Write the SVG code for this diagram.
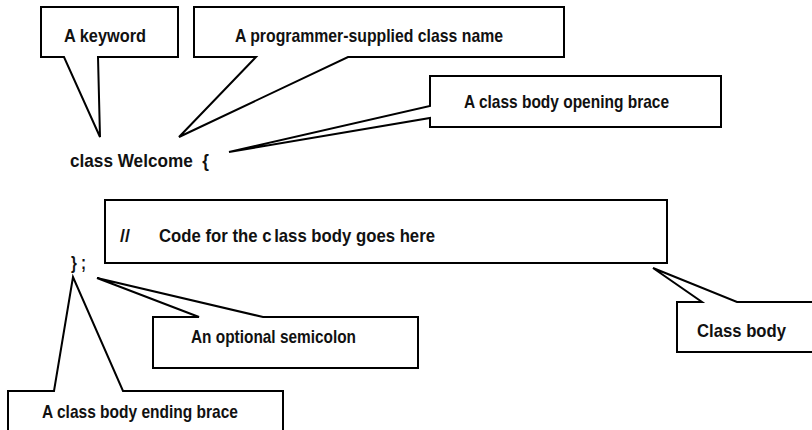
<svg xmlns="http://www.w3.org/2000/svg" width="812" height="430" viewBox="0 0 812 430">
  <style>
    .callout { fill: #ffffff; stroke: #000000; stroke-width: 2; stroke-linejoin: miter; }
    .lbl { font-family: "Liberation Sans Narrow", "Liberation Sans", Arial, sans-serif; font-size: 19px; font-weight: bold; fill: #111111; }
    .code { font-family: "Liberation Sans Narrow", "Liberation Sans", Arial, sans-serif; font-size: 19px; font-weight: bold; fill: #111111; white-space: pre; }
  </style>
  <rect width="812" height="430" fill="#ffffff"/>

  <!-- callouts: box outline and pointer tail drawn as one shape -->
  <g id="connectors">
    <g id="callout-keyword">
      <polygon class="callout" points="41,7 178,7 178,57 98,57 100,137 64,57 41,57"/>
      <text class="lbl" x="64" y="42" textLength="82" lengthAdjust="spacingAndGlyphs">A keyword</text>
    </g>
    <g id="callout-classname">
      <polygon class="callout" points="194,7 564,7 564,57 348,57 179,137 256,57 194,57"/>
      <text class="lbl" x="235" y="42" textLength="268" lengthAdjust="spacingAndGlyphs">A programmer-supplied class name</text>
    </g>
    <g id="callout-openbrace">
      <polygon class="callout" points="430,76 721,76 721,127 430,127 430,118 229,152 430,106"/>
      <text class="lbl" x="464" y="108" textLength="205" lengthAdjust="spacingAndGlyphs">A class body opening brace</text>
    </g>
    <g id="callout-semicolon">
      <polygon class="callout" points="153,317 199,317 97,278 263,317 418,317 418,368 153,368"/>
      <text class="lbl" x="191" y="343" textLength="165" lengthAdjust="spacingAndGlyphs">An optional semicolon</text>
    </g>
    <g id="callout-endbrace">
      <polygon class="callout" points="8,391 54,391 73,277 123,391 283,391 283,440 8,440"/>
      <text class="lbl" x="42" y="418" textLength="196" lengthAdjust="spacingAndGlyphs">A class body ending brace</text>
    </g>
    <g id="callout-classbody">
      <polygon class="callout" points="677,302 702,302 653,268 737,302 820,302 820,352 677,352"/>
      <text class="lbl" x="697" y="337" textLength="89" lengthAdjust="spacingAndGlyphs">Class body</text>
    </g>
  </g>

  <!-- class body placeholder -->
  <g id="body-box">
    <rect class="callout" x="105" y="200" width="562" height="63"/>
    <text class="lbl" x="120" y="242" textLength="10" lengthAdjust="spacingAndGlyphs">//</text>
    <text class="lbl" x="159" y="242" textLength="276" lengthAdjust="spacingAndGlyphs">Code for the c<tspan dx="3">lass body goes here</tspan></text>
  </g>

  <!-- source lines -->
  <g id="code-header">
    <text class="code" x="70" y="167" textLength="139" lengthAdjust="spacingAndGlyphs">class Welcome  {</text>
  </g>
  <g id="code-footer">
    <text class="code" x="71" y="269" textLength="15" lengthAdjust="spacingAndGlyphs">} ;</text>
  </g>
</svg>
